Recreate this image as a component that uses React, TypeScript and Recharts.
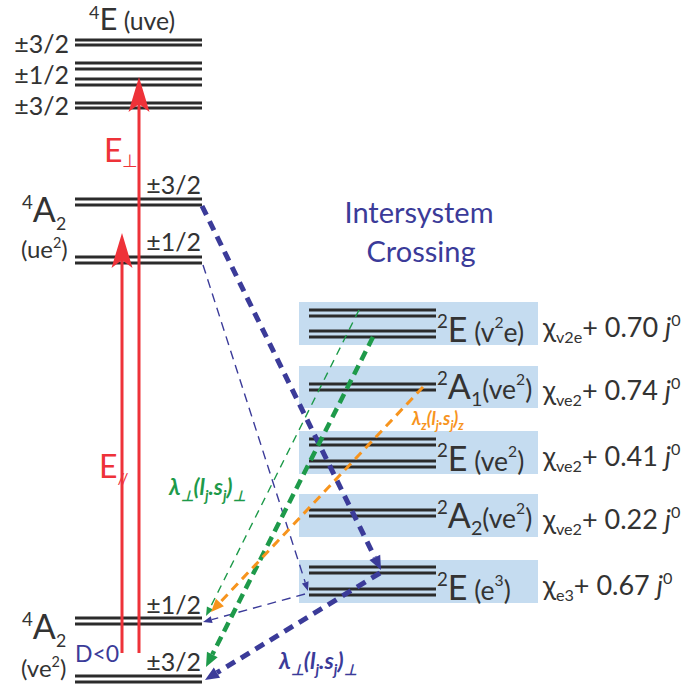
import React from 'react';
import { ComposedChart, XAxis, YAxis, ReferenceArea, ReferenceLine, ReferenceDot } from 'recharts';

const FONT = 'Lato, "Open Sans", sans-serif';
const INK = '#2b2b2b';
const TXT = '#333333';
const RED = '#EE3239';
const NAVY = '#3B3B99';
const GREEN = '#1E9A4A';
const ORANGE = '#F7941D';
const BOX = '#C5DCF0';

// ---- energy-level data (diagram units; y grows downward = lower energy) ----
const quartetSpan = [75, 202];
const doubletSpan = [309, 436];
const boxSpan = [299, 538];

const quartetLines = [40, 45, 63, 69, 79, 85, 103, 108, 199, 205, 257, 263, 618, 624, 676, 682];
const doubletLines = [310, 316, 331, 337, 384, 390, 439, 445, 461, 467, 510, 516, 567, 573, 589, 595];
const doubletBoxes = [
  [302, 345],
  [366, 408],
  [431, 474],
  [494, 537],
  [560, 603],
];

// mJ sublevel labels
const mjLabels = [
  { x: 69, y: 53, t: '±3/2' },
  { x: 69, y: 84, t: '±1/2' },
  { x: 69, y: 115, t: '±3/2' },
  { x: 201, y: 194, t: '±3/2' },
  { x: 201, y: 251, t: '±1/2' },
  { x: 201, y: 614, t: '±1/2' },
  { x: 201, y: 671, t: '±3/2' },
];

// doublet terms, right column
const doubletTerms = ['E', 'A', 'E', 'A', 'E'];
const doubletTermSub = ['', '1', '', '2', ''];
const doubletConfig = [
  ['v', '2', 'e'],
  ['ve', '2', ''],
  ['ve', '2', ''],
  ['ve', '2', ''],
  ['e', '3', ''],
];
const chiSub = ['v2e', 've2', 've2', 've2', 'e3'];
const jValues = ['0.70', '0.74', '0.41', '0.22', '0.67'];

// excitation (red) arrows
const excitations = [
  { x: 122, from: 653, to: 233 },
  { x: 139, from: 653, to: 77 },
];

// intersystem crossing / spin-orbit pathways
const pathways = [
  { from: [202, 206], to: [381, 570], kind: 'navyThick' },
  { from: [380, 573], to: [205, 680], kind: 'navyThick' },
  { from: [203, 265], to: [308, 591], kind: 'navyThin' },
  { from: [305, 594], to: [203, 622], kind: 'navyThin' },
  { from: [373, 337], to: [206, 667], kind: 'greenThick' },
  { from: [359, 310], to: [206, 616], kind: 'greenThin' },
  { from: [423, 387], to: [211, 612], kind: 'orange' },
];

const pathStyle: Record<string, any> = {
  navyThick: { stroke: NAVY, w: 5, dash: '10 7', head: 14, headW: 12 },
  navyThin: { stroke: NAVY, w: 1.4, dash: '9 6', head: 9, headW: 7 },
  greenThick: { stroke: GREEN, w: 4.5, dash: '10 6', head: 14, headW: 12 },
  greenThin: { stroke: GREEN, w: 1.4, dash: '8 6', head: 9, headW: 7 },
  orange: { stroke: ORANGE, w: 3, dash: '9 6', head: 13, headW: 11 },
};

type Run = { t: string; dy?: number; r?: number; it?: boolean };

function Rich(props: {
  x: number; y: number; size: number; runs: Run[]; fill: string;
  anchor?: string; weight?: any; italic?: boolean;
}) {
  const { x, y, size, runs, fill, anchor, weight, italic } = props;
  let cur = 0;
  return (
    <text
      x={x}
      y={y}
      fontSize={size}
      fill={fill}
      fontFamily={FONT}
      textAnchor={anchor || 'start'}
      fontWeight={weight || 'normal'}
      fontStyle={italic ? 'italic' : 'normal'}
    >
      {runs.map((r, i) => {
        const target = (r.dy || 0) * size;
        const d = target - cur;
        cur = target;
        return (
          <tspan
            key={i}
            dy={d}
            fontSize={size * (r.r || 1)}
            fontStyle={r.it ? 'italic' : undefined}
          >
            {r.t}
          </tspan>
        );
      })}
    </text>
  );
}

function arrowShape(st: any, notch = 0) {
  return (p: any) => {
    const { x1, y1, x2, y2 } = p;
    const ang = Math.atan2(y2 - y1, x2 - x1);
    const c = Math.cos(ang);
    const s = Math.sin(ang);
    const bx = x2 - st.head * c;
    const by = y2 - st.head * s;
    const nx = -s;
    const ny = c;
    const mx = x2 - (st.head - notch) * c;
    const my = y2 - (st.head - notch) * s;
    const pts = `${x2},${y2} ${bx + (nx * st.headW) / 2},${by + (ny * st.headW) / 2} ${mx},${my} ${bx - (nx * st.headW) / 2},${by - (ny * st.headW) / 2}`;
    return (
      <g>
        <line
          x1={x1}
          y1={y1}
          x2={mx}
          y2={my}
          stroke={st.stroke}
          strokeWidth={st.w}
          strokeDasharray={st.dash}
        />
        <polygon points={pts} fill={st.stroke} />
      </g>
    );
  };
}

const textDot = (key: string, x: number, y: number, node: (cx: number, cy: number) => any) => (
  <ReferenceDot
    key={key}
    x={x}
    y={y}
    r={0}
    ifOverflow="visible"
    shape={(p: any) => node(p.cx, p.cy)}
  />
);

const lambdaRuns = (sub: string, r: number): Run[] => [
  { t: 'λ' }, { t: sub, dy: 0.28, r }, { t: '(l' },
  { t: 'j', dy: 0.28, r }, { t: '.s' }, { t: 'j', dy: 0.28, r },
  { t: ')' }, { t: sub, dy: 0.28, r },
];

export default function App() {
  return (
    <div style={{ position: 'absolute', left: 0, top: 0, width: 700, height: 688, background: '#fff' }}>
      <ComposedChart width={700} height={688} margin={{ top: 0, right: 0, bottom: 0, left: 0 }}>
        <XAxis type="number" dataKey="x" domain={[0, 700]} hide allowDataOverflow />
        <YAxis type="number" dataKey="y" domain={[0, 688]} reversed hide allowDataOverflow />

        {doubletBoxes.map((b, i) => (
          <ReferenceArea
            key={'box' + i}
            x1={boxSpan[0]}
            x2={boxSpan[1]}
            y1={b[0]}
            y2={b[1]}
            fill={BOX}
            fillOpacity={1}
            stroke="none"
            ifOverflow="visible"
          />
        ))}

        {quartetLines.map((e, i) => (
          <ReferenceLine
            key={'q' + i}
            segment={[{ x: quartetSpan[0], y: e }, { x: quartetSpan[1], y: e }]}
            stroke={INK}
            strokeWidth={3}
            ifOverflow="visible"
          />
        ))}
        {doubletLines.map((e, i) => (
          <ReferenceLine
            key={'d' + i}
            segment={[{ x: doubletSpan[0], y: e }, { x: doubletSpan[1], y: e }]}
            stroke={INK}
            strokeWidth={3}
            ifOverflow="visible"
          />
        ))}

        {excitations.map((a, i) => (
          <ReferenceLine
            key={'ex' + i}
            segment={[{ x: a.x, y: a.from }, { x: a.x, y: a.to }]}
            ifOverflow="visible"
            shape={arrowShape({ stroke: RED, w: 3, dash: undefined, head: 35, headW: 21 }, 8)}
          />
        ))}

        {pathways.map((p, i) => (
          <ReferenceLine
            key={'pw' + i}
            segment={[{ x: p.from[0], y: p.from[1] }, { x: p.to[0], y: p.to[1] }]}
            ifOverflow="visible"
            shape={arrowShape(pathStyle[p.kind], 0)}
          />
        ))}

        {mjLabels.map((m, i) =>
          textDot('mj' + i, m.x, m.y, (cx, cy) => (
            <Rich x={cx} y={cy} size={25} fill={TXT} anchor="end" runs={[{ t: m.t }]} />
          ))
        )}

        {textDot('t4E', 89, 30, (cx, cy) => (
          <Rich x={cx} y={cy} size={31} fill={TXT}
            runs={[{ t: '4', dy: -0.36, r: 0.58 }, { t: 'E' }, { t: ' (uve)', r: 0.8 }]} />
        ))}
        {textDot('t4A2a', 22, 222, (cx, cy) => (
          <Rich x={cx} y={cy} size={34} fill={TXT}
            runs={[{ t: '4', dy: -0.38, r: 0.55 }, { t: 'A' }, { t: '2', dy: 0.24, r: 0.52 }]} />
        ))}
        {textDot('t4A2aC', 21, 258, (cx, cy) => (
          <Rich x={cx} y={cy} size={24} fill={TXT}
            runs={[{ t: '(ue' }, { t: '2', dy: -0.4, r: 0.6 }, { t: ')' }]} />
        ))}
        {textDot('t4A2b', 22, 639, (cx, cy) => (
          <Rich x={cx} y={cy} size={34} fill={TXT}
            runs={[{ t: '4', dy: -0.38, r: 0.55 }, { t: 'A' }, { t: '2', dy: 0.24, r: 0.52 }]} />
        ))}
        {textDot('t4A2bC', 21, 677, (cx, cy) => (
          <Rich x={cx} y={cy} size={24} fill={TXT}
            runs={[{ t: '(ve' }, { t: '2', dy: -0.4, r: 0.6 }, { t: ')' }]} />
        ))}
        {textDot('dlt0', 75, 662, (cx, cy) => (
          <Rich x={cx} y={cy} size={23} fill={NAVY} runs={[{ t: 'D<0' }]} />
        ))}

        {textDot('Eperp', 104, 162, (cx, cy) => (
          <Rich x={cx} y={cy} size={32} fill={RED}
            runs={[{ t: 'E' }, { t: '⊥', dy: 0.15, r: 0.55 }]} />
        ))}
        {textDot('Epar', 99, 478, (cx, cy) => (
          <Rich x={cx} y={cy} size={32} fill={RED}
            runs={[{ t: 'E' }, { t: '//', dy: 0.2, r: 0.5 }]} />
        ))}

        {textDot('isc1', 419, 223, (cx, cy) => (
          <Rich x={cx} y={cy} size={29} fill={NAVY} anchor="middle" runs={[{ t: 'Intersystem' }]} />
        ))}
        {textDot('isc2', 421, 262, (cx, cy) => (
          <Rich x={cx} y={cy} size={29} fill={NAVY} anchor="middle" runs={[{ t: 'Crossing' }]} />
        ))}

        {doubletBoxes.map((b, i) => {
          const isA = !!doubletTermSub[i];
          return textDot('term' + i, 437, b[1] - (isA ? 9 : 3), (cx, cy) => {
            const cfg = doubletConfig[i];
            const runs: Run[] = [{ t: '2', dy: -0.42, r: 0.55 }, { t: doubletTerms[i] }];
            if (isA) runs.push({ t: doubletTermSub[i], dy: 0.2, r: 0.58 });
            runs.push({ t: (isA ? '' : ' ') + '(' + cfg[0], dy: 0, r: 0.78 });
            runs.push({ t: cfg[1], dy: -0.4, r: 0.46 });
            runs.push({ t: cfg[2] + ')', dy: 0, r: 0.78 });
            return <Rich x={cx} y={cy} size={34} fill={TXT} runs={runs} />;
          });
        })}

        {doubletBoxes.map((b, i) =>
          textDot('chi' + i, 543, b[1] - 8, (cx, cy) => (
            <Rich x={cx} y={cy} size={27} fill={TXT}
              runs={[
                { t: 'χ' },
                { t: chiSub[i], dy: 0.22, r: 0.6 },
                { t: '+ ' + jValues[i] + ' ' },
                { t: 'j', it: true },
                { t: '0', dy: -0.4, r: 0.6 },
              ]} />
          ))
        )}

        {textDot('lamG', 169, 495, (cx, cy) => (
          <Rich x={cx} y={cy} size={22.5} fill={GREEN} weight="bold" italic runs={lambdaRuns('⊥', 0.65)} />
        ))}
        {textDot('lamB', 279, 669, (cx, cy) => (
          <Rich x={cx} y={cy} size={23} fill={NAVY} weight="bold" italic runs={lambdaRuns('⊥', 0.65)} />
        ))}
        {textDot('lamO', 412, 425, (cx, cy) => (
          <Rich x={cx} y={cy} size={18} fill={ORANGE} weight="bold" italic runs={lambdaRuns('z', 0.7)} />
        ))}
      </ComposedChart>
    </div>
  );
}
